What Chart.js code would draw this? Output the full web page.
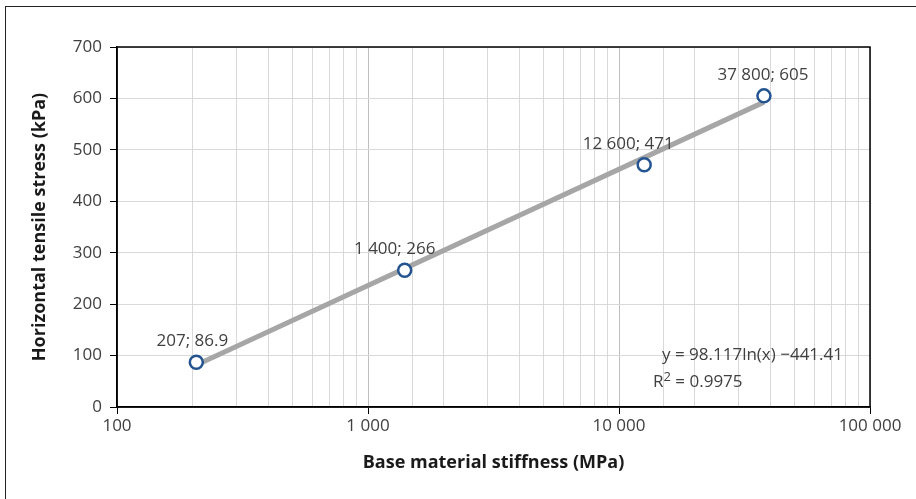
<!DOCTYPE html>
<html>
<head>
<meta charset="utf-8">
<script src="https://cdn.jsdelivr.net/npm/chart.js@4.4.0/dist/chart.umd.min.js"></script>
<style>
  body { margin: 0; background: #fff; }
  .frame { position: absolute; left: 5px; top: 6px; width: 920px; height: 500px;
           border-top: 1.5px solid #222; border-left: 1.5px solid #222; }
  canvas { position: absolute; left: 0; top: 0; }
</style>
</head>
<body>
<div class="frame"></div>
<canvas id="chart" width="916" height="499"></canvas>
<script>
// measured points
const stiffness = [207, 1400, 12600, 37800];
const stress = [86.9, 266, 471, 605];
const pointLabels = ["207; 86.9", "1 400; 266", "12 600; 471", "37 800; 605"];
// trendline ends
const trendX = [207, 37800];
const trendY = [81.8, 592.8];
const equationText = "y = 98.117ln(x) \u2212441.41";
const r2Text = "0.9975";

const FONT = "'Open Sans', sans-serif";
const TEXT = "#404040";

function isDecade(v) {
  const l = Math.log10(v);
  return Math.abs(l - Math.round(l)) < 1e-9;
}
function fmt(v) {
  return String(v).replace(/\B(?=(\d{3})+(?!\d))/g, " ");
}

// point labels + equation + plot border
const extras = {
  id: "extras",
  beforeDatasetsDraw(chart) {
    const { ctx, chartArea: a } = chart;
    ctx.save();
    ctx.strokeStyle = "#000";
    ctx.lineWidth = 1.5;
    ctx.strokeRect(a.left, a.top, a.right - a.left, a.bottom - a.top);
    ctx.restore();
  },
  afterDatasetsDraw(chart) {
    const { ctx, chartArea: a } = chart;
    const x = chart.scales.x, y = chart.scales.y;
    const dx = [-4, -10, -16, -1];
    ctx.save();
    ctx.font = "17px " + FONT;
    ctx.fillStyle = TEXT;
    ctx.textAlign = "center";
    ctx.textBaseline = "middle";
    stiffness.forEach((v, i) => {
      ctx.fillText(pointLabels[i], x.getPixelForValue(v) + dx[i], y.getPixelForValue(stress[i]) - 21);
    });
    ctx.textAlign = "left";
    ctx.fillText(equationText, a.right - 208, a.bottom - 52);
    let px = a.right - 217, py = a.bottom - 25;
    ctx.fillText("R", px, py);
    px += ctx.measureText("R").width;
    ctx.font = "13px " + FONT;
    ctx.fillText("2", px, py - 5);
    px += ctx.measureText("2").width;
    ctx.font = "17px " + FONT;
    ctx.fillText(" = " + r2Text, px, py);
    ctx.restore();
  }
};

new Chart(document.getElementById("chart"), {
  type: "scatter",
  data: {
    datasets: [{
      data: stiffness.map((v, i) => ({ x: v, y: stress[i] })),
      pointRadius: 6.5,
      pointBorderWidth: 2.5,
      pointBackgroundColor: "#fff",
      pointBorderColor: "#24548f",
      showLine: false
    }, {
      data: trendX.map((v, i) => ({ x: v, y: trendY[i] })),
      showLine: true,
      borderColor: "#a6a6a6",
      borderWidth: 5,
      pointRadius: 0
    }]
  },
  options: {
    responsive: false,
    animation: false,
    layout: { padding: { top: 47, right: 46, left: 0, bottom: 0 } },
    plugins: { legend: { display: false }, tooltip: { enabled: false } },
    scales: {
      x: {
        type: "logarithmic",
        min: 100,
        max: 100000,
        afterFit(s) { s.height = 92; },
        border: { color: "#000", width: 1.5 },
        grid: {
          color: c => (c.tick && isDecade(c.tick.value)) ? "#bfbfbf" : "#d9d9d9",
          tickColor: c => (c.tick && isDecade(c.tick.value)) ? "#000" : "rgba(0,0,0,0)",
          tickLength: 7
        },
        ticks: {
          autoSkip: false,
          maxRotation: 0,
          padding: 2,
          color: TEXT,
          font: { family: FONT, size: 17 },
          callback: v => isDecade(v) ? fmt(v) : ""
        },
        title: {
          display: true,
          text: "Base material stiffness (MPa)",
          color: "#1a1a1a",
          font: { family: FONT, size: 18, weight: "bold" },
          padding: { top: 0, bottom: 25 }
        }
      },
      y: {
        min: 0,
        max: 700,
        afterFit(s) { s.width = 117; },
        border: { color: "#000", width: 1.5 },
        grid: { color: "#d9d9d9", tickColor: "#000", tickLength: 7 },
        ticks: {
          stepSize: 100,
          padding: 8,
          color: TEXT,
          font: { family: FONT, size: 17 }
        },
        title: {
          display: true,
          text: "Horizontal tensile stress (kPa)",
          color: "#1a1a1a",
          font: { family: FONT, size: 18, weight: "bold" },
          padding: { top: 29, bottom: 0 }
        }
      }
    }
  },
  plugins: [extras]
});
</script>
</body>
</html>
